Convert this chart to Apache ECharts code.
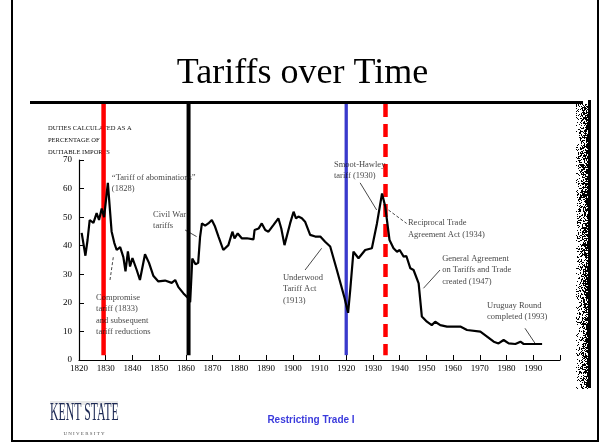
<!DOCTYPE html>
<html><head><meta charset="utf-8">
<script src="https://cdn.jsdelivr.net/npm/echarts@6/dist/echarts.min.js"></script>
<style>html,body{margin:0;padding:0;background:#fff}#c{width:605px;height:446px}</style>
</head><body><div id="c"></div>
<script>
// ---- data ----
const tariffYears = [1821.0,1822.4,1823.2,1824.0,1825.4,1826.6,1827.5,1828.5,1829.4,1830.8,1832.2,1833.2,1834.1,1835.4,1836.6,1837.4,1838.3,1839.1,1840.0,1841.6,1842.8,1844.7,1846.2,1847.8,1849.7,1852.2,1854.7,1856.0,1857.2,1859.1,1860.9,1861.6,1862.4,1863.6,1864.6,1865.3,1866.0,1867.2,1868.4,1869.7,1870.9,1872.2,1874.0,1875.9,1877.4,1878.2,1879.4,1880.9,1882.8,1885.3,1885.7,1887.2,1888.4,1889.7,1890.9,1892.8,1894.6,1895.7,1896.9,1899.0,1900.3,1901.2,1902.1,1903.4,1904.6,1906.5,1908.4,1910.3,1912.1,1914.0,1916.5,1919.4,1920.7,1921.5,1922.7,1924.6,1927.1,1929.6,1931.5,1933.4,1934.6,1936.2,1937.7,1939.0,1940.0,1941.5,1942.5,1944.0,1945.2,1947.1,1948.3,1950.2,1952.0,1953.3,1955.2,1957.7,1962.7,1965.2,1970.2,1972.7,1975.2,1977.0,1978.9,1980.8,1983.3,1985.2,1986.4,1990.2,1993.3];
const tariffValues = [44.5,36.5,42,49,48,51.4,49,53,50,62,45,41,38.5,39.5,36,31,38,32.7,35.7,31.5,28,37,34,29.5,27.5,27.8,27,28,25.5,23.3,21.6,20.2,35.5,33.5,34,43,47.8,47,47.8,49,46.7,43.2,38.5,40.2,44.9,42.6,44.3,42.6,42.6,42.2,45.5,46,47.8,45.5,44.9,47.3,49.6,46,40.2,47.8,51.9,49.6,50.2,49.6,48.4,43.8,43.2,43.2,41.4,39.7,31.5,21.6,16.5,24.5,37.9,35.6,38.5,39.1,47.8,58.3,53.7,42,39.1,37.9,38.5,36.2,36.4,32.1,31.5,26.8,15.2,13.4,12.2,13.4,12.2,11.7,11.7,10.5,9.9,8.2,6.4,5.8,7,5.8,5.6,6.4,5.6,5.6,5.6];
const xTickLabelMax = 1990;
const eventYears = [1829.2, 1861, 1920, 1934.7];
const eventSpan = [89.6, 1.7];
const noteTexts = [
  '\u201cTariff of abominations\u201d\n(1828)',
  'Civil War\ntariffs',
  'Compromise\ntariff (1833)\nand subsequent\ntariff reductions',
  'Underwood\nTariff Act\n(1913)',
  'Smoot-Hawley\ntariff (1930)',
  'Reciprocal Trade\nAgreement Act (1934)',
  'General Agreement\non Tariffs and Trade\ncreated (1947)',
  'Uruguay Round\ncompleted (1993)'
];
const noteAnchors = [[1832.3,65.8],[1847.7,52.9],[1826.4,23.8],[1896.3,30.8],[1915.4,70.4],[1943.1,50.0],[1955.9,37.5],[1972.7,21.0]];
const leaderLines = [
  [[1859.7,45.5],[1864.0,43.2]],
  [[1831.6,28.0],[1832.9,36.4]],
  [[1904.6,31.5],[1910.8,39.1]],
  [[1925.2,62.0],[1931.4,52.5]],
  [[1935.8,52.5],[1942.6,47.8]],
  [[1948.9,25.1],[1955.1,31.5]],
  [[1986.9,11.1],[1990.7,5.8]]
];
const leaderDashed = [false,true,false,false,true,false,false];
const titleText = 'Tariffs over Time';
const yTitleLines = ['DUTIES CALCULATED AS A','PERCENTAGE OF','DUTIABLE IMPORTS'];
const footerText = 'Restricting Trade I';

// ---- build ----
const chart = echarts.init(document.getElementById('c'), null, {renderer:'canvas'});
const serif = '"Liberation Serif","Times New Roman",serif';
const tariffData = tariffYears.map((y,i)=>[y, tariffValues[i]]);
const eventStyles = [
  {color:'#ff0000', width:4.5, type:'solid'},
  {color:'#000000', width:4, type:'solid'},
  {color:'#3a3acc', width:3.3, type:'solid'},
  {color:'#ff0000', width:4.5, type:[13,7]}
];
const series = [];
eventYears.forEach((yr,i)=>{
  series.push({type:'line', clip:false, silent:true, symbol:'none', z:3,
    data:[[yr,eventSpan[0]],[yr,eventSpan[1]]],
    lineStyle:eventStyles[i]});
});
series.push({type:'line', data:tariffData, symbol:'none', clip:false, z:4,
  lineStyle:{color:'#000', width:2.2}});
leaderLines.forEach((ln,i)=>{
  series.push({type:'line', data:ln, symbol:'none', clip:false, silent:true, z:2,
    lineStyle:{color:'#333', width:0.9, type: leaderDashed[i]?[3,2]:'solid'}});
});
series.push({type:'scatter', clip:false, silent:true, symbolSize:0, z:5,
  data: noteAnchors.map((a,i)=>({value:a, label:{formatter:noteTexts[i]}})),
  label:{show:true, position:[0,0], align:'left', verticalAlign:'top',
    fontFamily:serif, fontSize:8.5, lineHeight:11.5, color:'#111'}});

// decorative noisy strip on the right (scan artefact)
const strip = document.createElement('canvas');
strip.width = 12; strip.height = 285;
(function(){
  const g = strip.getContext('2d');
  let s = 7;
  for (let yy=0; yy<285; yy++) for (let xx=0; xx<12; xx++) {
    s = (s*1103515245 + 12345) & 0x7fffffff;
    const p = (s % 1000)/1000;
    const dens = 0.15 + 0.55*(xx/11);
    if (p < dens) { g.fillStyle = '#000'; g.fillRect(xx,yy,1,1); }
  }
})();

chart.setOption({
  animation:false,
  backgroundColor:'#fff',
  grid:{left:79, right:45, top:160, bottom:86},
  xAxis:{type:'value', min:1820, max:2000, interval:10,
    axisLine:{lineStyle:{color:'#000', width:1.2}},
    axisTick:{inside:true, length:5, lineStyle:{color:'#000'}},
    splitLine:{show:false},
    axisLabel:{formatter:v=> v<=xTickLabelMax ? String(v) : '', fontFamily:serif, fontSize:9, color:'#000', margin:4}},
  yAxis:{type:'value', min:0, max:70, interval:10,
    axisLine:{show:true, lineStyle:{color:'#000', width:1.2}},
    axisTick:{show:true, inside:true, length:5, lineStyle:{color:'#000'}},
    splitLine:{show:false},
    axisLabel:{fontFamily:serif, fontSize:9, color:'#000', margin:7}},
  series: series,
  graphic:[
    {type:'rect', shape:{x:12, y:-5, width:586, height:446}, style:{fill:'none', stroke:'#000', lineWidth:2}, z:0},
    {type:'text', x:302.5, y:92, style:{text:titleText, font:'36px '+serif, fill:'#000', textAlign:'center', textVerticalAlign:'bottom'}},
    {type:'rect', shape:{x:30, y:101, width:553, height:3}, style:{fill:'#000'}},
    {type:'text', x:48, y:122, style:{text:yTitleLines.join('\n'), font:'6.5px '+serif, lineHeight:12, fill:'#111'}},
    {type:'image', style:{image:strip, x:576, y:104, width:12, height:285}},
    {type:'rect', shape:{x:588, y:100, width:3, height:288}, style:{fill:'#000'}},
    {type:'rect', shape:{x:50, y:401, width:68, height:4}, style:{fill:'#e8e8e8'}},
    {type:'text', x:50, y:426, scaleX:0.47, style:{text:'KENT STATE', font:'25px '+serif, fill:'#1e2a55', textVerticalAlign:'bottom'}},
    {type:'text', x:84, y:434, style:{text:'U N I V E R S I T Y', font:'5px '+serif, fill:'#555', textAlign:'center', textVerticalAlign:'middle'}},
    {type:'text', x:311, y:420, style:{text:footerText, font:'bold 10px "Liberation Sans",Arial,sans-serif', fill:'#3b3bdc', textAlign:'center', textVerticalAlign:'middle'}}
  ]
});
</script></body></html>
